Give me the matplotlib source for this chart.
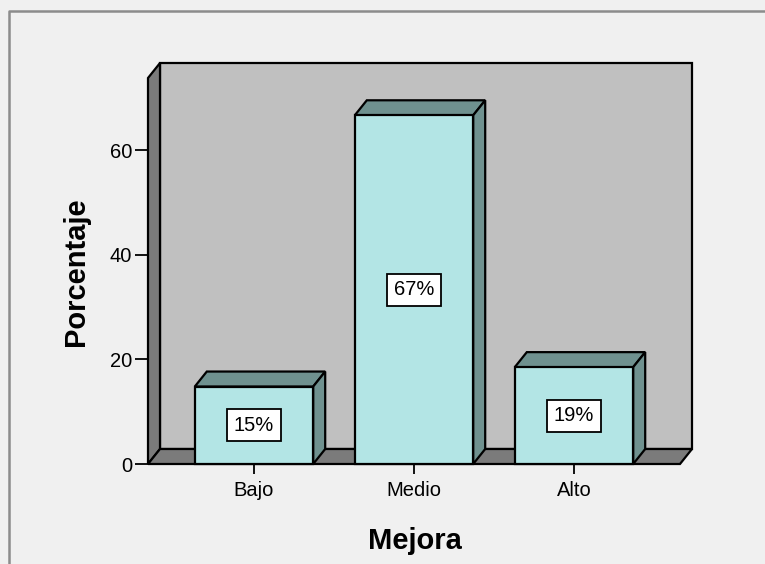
import matplotlib
matplotlib.use('Agg')
import matplotlib.pyplot as plt
from matplotlib.patches import Polygon, Rectangle
from matplotlib.lines import Line2D

plt.rcParams['font.family'] = ['Liberation Sans', 'DejaVu Sans']

categorias = ['Bajo', 'Medio', 'Alto']
porcentajes = [14.81, 66.67, 18.52]
yticks = [0, 20, 40, 60]

# colores estilo SPSS
c_fondo = '#f0f0f0'
c_pared = '#c0c0c0'
c_suelo = '#7b7b7b'
c_frente = '#b3e5e5'
c_lado = '#6f918f'

W, H, DPI = 765, 564, 100
fig = plt.figure(figsize=(W / DPI, H / DPI), dpi=DPI, facecolor=c_fondo)
ax = fig.add_axes([148 / W, 100 / H, 532 / W, 386 / H])
xmin, xmax = -0.6625, 2.6625
ymax = 73.8
ax.set_xlim(xmin, xmax)
ax.set_ylim(0, ymax)
ax.patch.set_visible(False)
for s in ax.spines.values():
    s.set_visible(False)

# profundidad del efecto 3D (12 px a la derecha, 15 px hacia arriba)
dx = 12 * (xmax - xmin) / 532
dy = 15 * ymax / 386
lw = 1.6

def cara(pts, color, z):
    ax.add_patch(Polygon(pts, closed=True, fc=color, ec='black', lw=lw,
                         clip_on=False, zorder=z, joinstyle='miter'))

# pared del fondo, pared izquierda y suelo
cara([(xmin + dx, dy), (xmax + dx, dy), (xmax + dx, ymax + dy), (xmin + dx, ymax + dy)], c_pared, 1)
cara([(xmin, 0), (xmin + dx, dy), (xmin + dx, ymax + dy), (xmin, ymax)], c_suelo, 1.1)
cara([(xmin, 0), (xmax, 0), (xmax + dx, dy), (xmin + dx, dy)], c_suelo, 1.2)

ancho = 0.74
for i, v in enumerate(porcentajes):
    x0, x1 = i - ancho / 2, i + ancho / 2
    cara([(x0, v), (x1, v), (x1 + dx, v + dy), (x0 + dx, v + dy)], c_lado, 3)
    cara([(x1, 0), (x1 + dx, dy), (x1 + dx, v + dy), (x1, v)], c_lado, 3)
    ax.add_patch(Rectangle((x0, 0), ancho, v, fc=c_frente, ec='black', lw=lw,
                           clip_on=False, zorder=3.1))
    ax.text(i, v / 2, f'{v:.0f}%', ha='center', va='center', fontsize=14.5,
            zorder=4, bbox=dict(boxstyle='square,pad=0.32', fc='white', ec='black', lw=1.3))

ax.set_xticks(range(len(categorias)))
ax.set_xticklabels(categorias)
ax.set_yticks(yticks)
ax.tick_params(axis='y', direction='out', length=9.5, width=1.3, pad=2, labelsize=14.5)
ax.tick_params(axis='x', direction='out', length=7.5, width=1.3, pad=5, labelsize=14.5)

fig.text(76 / W, 1 - 272 / H, 'Porcentaje', rotation=90, ha='center', va='center',
         fontsize=21, fontweight='bold')
fig.text(415 / W, 1 - 549 / H, 'Mejora', ha='center', va='baseline',
         fontsize=21, fontweight='bold')

# marco exterior
fig.add_artist(Line2D([8.5 / W, 8.5 / W, 1], [0, 1 - 10.5 / H, 1 - 10.5 / H],
                      transform=fig.transFigure, color='#8c8c8c', lw=1.8))

fig.savefig('out.png', dpi=DPI, facecolor=c_fondo)
